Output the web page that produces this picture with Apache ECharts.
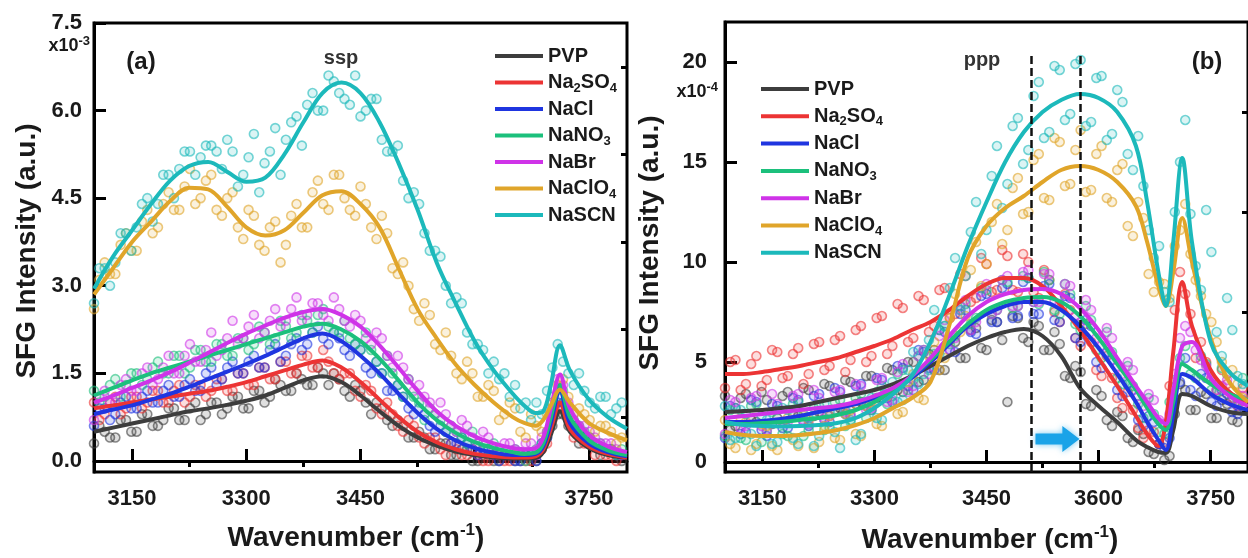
<!DOCTYPE html>
<html>
<head>
<meta charset="utf-8">
<title>SFG spectra ssp / ppp</title>
<script src="https://cdn.jsdelivr.net/npm/echarts@6/dist/echarts.min.js"></script>
<style>
    html, body { margin: 0; padding: 0; background: #fff; }
    #chart { width: 1248px; height: 558px; }
</style>
</head>
<body>
<div id="chart"></div>
<script>
// salts, in drawing order
var names = ['PVP', 'Na2SO4', 'NaCl', 'NaNO3', 'NaBr', 'NaClO4', 'NaSCN'];
var colors = ['#3d3d3d', '#ec3434', '#1f35e0', '#1cc07c', '#cf33e8', '#e0a52a', '#1cb9bb'];

// x of the fitted curves (cm-1)
var fitX = [3100, 3125, 3150, 3175, 3200, 3225, 3250, 3275, 3300, 3325, 3350, 3375, 3400, 3425, 3450, 3475, 3500, 3525, 3550, 3575, 3600, 3625, 3650, 3665, 3680, 3690, 3700, 3712, 3725, 3750, 3775, 3800];
// x of the measured points, two interleaved sets
var ptsX1 = [3100, 3114, 3128, 3142, 3156, 3170, 3184, 3198, 3212, 3226, 3240, 3254, 3268, 3282, 3296, 3310, 3324, 3338, 3352, 3366, 3380, 3394, 3408, 3422, 3436, 3450, 3464, 3478, 3492, 3506, 3520, 3534, 3548, 3562, 3576, 3590, 3604, 3618, 3632, 3646, 3660, 3674, 3688, 3702, 3716, 3730, 3744, 3758, 3772, 3786];
var ptsX2 = [3107, 3121, 3135, 3149, 3163, 3177, 3191, 3205, 3219, 3233, 3247, 3261, 3275, 3289, 3303, 3317, 3331, 3345, 3359, 3373, 3387, 3401, 3415, 3429, 3443, 3457, 3471, 3485, 3499, 3513, 3527, 3541, 3555, 3569, 3583, 3597, 3611, 3625, 3639, 3653, 3667, 3681, 3695, 3709, 3723, 3737, 3751, 3765, 3779, 3793];

// (a) ssp, x10^-3 : fitted curves
var fitA_PVP    = [0.5, 0.57, 0.64, 0.71, 0.78, 0.85, 0.9, 0.96, 1.03, 1.12, 1.25, 1.38, 1.45, 1.35, 1.12, 0.85, 0.6, 0.4, 0.26, 0.16, 0.1, 0.06, 0.04, 0.04, 0.05, 0.15, 0.45, 0.85, 0.5, 0.22, 0.1, 0.05];
var fitA_Na2SO4 = [0.9, 0.95, 1.0, 1.05, 1.1, 1.15, 1.2, 1.27, 1.35, 1.45, 1.55, 1.65, 1.72, 1.6, 1.35, 1.05, 0.75, 0.5, 0.32, 0.2, 0.12, 0.08, 0.06, 0.06, 0.08, 0.2, 0.55, 1.0, 0.55, 0.25, 0.12, 0.06];
var fitA_NaCl   = [0.8, 0.88, 0.95, 1.05, 1.15, 1.27, 1.4, 1.53, 1.66, 1.8, 1.95, 2.1, 2.18, 2.05, 1.8, 1.5, 1.15, 0.82, 0.55, 0.35, 0.22, 0.14, 0.1, 0.1, 0.12, 0.25, 0.65, 1.2, 0.65, 0.3, 0.15, 0.08];
var fitA_NaNO3  = [1.12, 1.25, 1.38, 1.5, 1.6, 1.7, 1.8, 1.9, 2.0, 2.1, 2.2, 2.3, 2.35, 2.25, 2.05, 1.75, 1.38, 1.0, 0.7, 0.48, 0.32, 0.22, 0.15, 0.12, 0.14, 0.3, 0.75, 1.3, 0.75, 0.35, 0.18, 0.1];
var fitA_NaBr   = [1.0, 1.12, 1.25, 1.38, 1.52, 1.68, 1.85, 2.02, 2.18, 2.32, 2.45, 2.55, 2.6, 2.5, 2.3, 1.98, 1.6, 1.2, 0.85, 0.6, 0.42, 0.3, 0.22, 0.2, 0.22, 0.4, 0.9, 1.48, 0.9, 0.45, 0.25, 0.15];
var fitA_NaClO4 = [2.85, 3.3, 3.75, 4.1, 4.45, 4.68, 4.65, 4.35, 4.0, 3.86, 3.95, 4.25, 4.55, 4.62, 4.4, 4.0, 3.3, 2.6, 2.1, 1.65, 1.3, 1.0, 0.75, 0.65, 0.6, 0.7, 0.95, 1.22, 1.0, 0.65, 0.48, 0.35];
var fitA_NaSCN  = [2.95, 3.5, 3.95, 4.4, 4.8, 5.05, 5.12, 4.95, 4.78, 4.85, 5.25, 5.8, 6.3, 6.48, 6.3, 5.8, 5.1, 4.3, 3.4, 2.7, 2.05, 1.55, 1.15, 0.95, 0.82, 0.85, 1.3, 1.98, 1.55, 1.05, 0.75, 0.55];

// (a) measured points, scan 1 and scan 2
var ptsA_PVP    = [0.3, 0.5, 0.4, 0.7, 0.5, 0.8, 0.6, 0.9, 0.7, 0.9, 0.7, 1.0, 0.8, 1.1, 0.9, 1.2, 1.0, 1.4, 1.2, 1.5, 1.3, 1.6, 1.3, 1.4, 1.1, 1.2, 0.8, 0.9, 0.6, 0.6, 0.4, 0.4, 0.2, 0.3, 0.1, 0.2, 0.0, 0.1, 0.0, 0.1, 0.0, 0.0, 0.2, 0.6, 0.8, 0.6, 0.4, 0.3, 0.2, 0.1];
var ptsA_Na2SO4 = [0.7, 1.0, 0.8, 1.1, 0.9, 1.2, 1.0, 1.2, 1.0, 1.3, 1.1, 1.4, 1.2, 1.5, 1.3, 1.6, 1.4, 1.7, 1.5, 1.8, 1.6, 1.9, 1.5, 1.5, 1.2, 1.3, 0.9, 1.0, 0.6, 0.7, 0.4, 0.4, 0.2, 0.3, 0.1, 0.2, 0.0, 0.1, 0.0, 0.1, 0.0, 0.1, 0.3, 0.9, 0.8, 0.5, 0.3, 0.2, 0.1, 0.1];
var ptsA_NaCl   = [0.6, 0.9, 0.8, 1.1, 0.9, 1.2, 1.0, 1.3, 1.1, 1.4, 1.2, 1.6, 1.4, 1.7, 1.5, 1.8, 1.6, 2.0, 1.8, 2.1, 2.0, 2.3, 2.0, 2.1, 1.8, 1.9, 1.5, 1.5, 1.2, 1.1, 0.8, 0.8, 0.5, 0.5, 0.3, 0.3, 0.1, 0.2, 0.0, 0.1, 0.0, 0.1, 0.3, 0.9, 1.0, 0.6, 0.4, 0.3, 0.2, 0.1];
var ptsA_NaNO3  = [1.0, 1.3, 1.1, 1.5, 1.3, 1.6, 1.5, 1.8, 1.5, 1.9, 1.7, 2.0, 1.8, 2.1, 1.9, 2.3, 2.0, 2.4, 2.1, 2.5, 2.2, 2.6, 2.2, 2.4, 2.0, 2.2, 1.7, 1.8, 1.3, 1.4, 1.0, 0.9, 0.7, 0.6, 0.4, 0.5, 0.3, 0.3, 0.1, 0.2, 0.0, 0.2, 0.5, 1.1, 0.9, 0.6, 0.4, 0.3, 0.2, 0.2];
var ptsA_NaBr   = [0.7, 1.2, 1.0, 1.4, 1.2, 1.6, 1.4, 1.8, 1.5, 2.0, 1.7, 2.2, 1.9, 2.4, 2.1, 2.5, 2.2, 2.6, 2.4, 2.8, 2.5, 2.7, 2.4, 2.6, 2.3, 2.4, 2.0, 2.1, 1.6, 1.6, 1.2, 1.1, 0.8, 0.8, 0.5, 0.6, 0.3, 0.4, 0.2, 0.3, 0.1, 0.3, 0.4, 1.1, 1.3, 0.8, 0.6, 0.4, 0.3, 0.2];
var ptsA_NaClO4 = [3.1, 3.2, 3.7, 3.6, 4.1, 3.9, 4.4, 4.3, 4.7, 4.4, 4.8, 4.3, 4.5, 4.0, 4.3, 3.7, 4.0, 3.4, 4.2, 4.0, 4.6, 4.4, 4.9, 4.5, 4.2, 4.4, 3.8, 3.9, 3.2, 3.0, 2.4, 2.5, 1.9, 1.8, 1.4, 1.5, 1.1, 1.2, 0.8, 0.9, 0.4, 0.6, 0.8, 1.3, 1.1, 0.9, 0.7, 0.6, 0.5, 0.4];
var ptsA_NaSCN  = [2.7, 3.3, 3.4, 3.9, 4.0, 4.5, 4.4, 4.9, 5.0, 5.3, 5.2, 5.4, 5.0, 5.3, 4.9, 5.6, 5.1, 5.7, 5.5, 5.9, 6.1, 6.0, 6.6, 6.3, 6.1, 5.9, 6.2, 5.5, 5.3, 4.8, 4.6, 3.9, 3.6, 3.0, 2.8, 2.2, 2.0, 1.5, 1.4, 1.1, 0.9, 0.7, 0.8, 1.6, 1.7, 1.3, 1.2, 0.9, 1.1, 0.9];

var ptsA2_PVP    = [0.6, 0.4, 0.7, 0.5, 0.8, 0.6, 0.7, 0.9, 0.7, 1.0, 0.8, 1.0, 0.9, 1.1, 0.9, 1.2, 1.1, 1.3, 1.2, 1.4, 1.3, 1.5, 1.5, 1.2, 1.3, 1.0, 1.0, 0.7, 0.7, 0.4, 0.5, 0.2, 0.3, 0.1, 0.2, 0.0, 0.1, 0.0, 0.1, 0.0, 0.1, 0.0, 0.4, 0.8, 0.6, 0.3, 0.3, 0.1, 0.2, 0.0];
var ptsA2_Na2SO4 = [1.0, 0.8, 1.1, 0.9, 1.1, 1.0, 1.2, 1.0, 1.3, 1.1, 1.3, 1.2, 1.4, 1.2, 1.5, 1.3, 1.6, 1.4, 1.7, 1.5, 1.8, 1.6, 1.7, 1.4, 1.5, 1.1, 1.2, 0.8, 0.8, 0.5, 0.6, 0.3, 0.4, 0.1, 0.2, 0.1, 0.1, 0.0, 0.1, 0.0, 0.1, 0.0, 0.2, 0.7, 0.9, 0.4, 0.3, 0.1, 0.1, 0.0];
var ptsA2_NaCl   = [0.9, 0.7, 1.0, 0.9, 1.1, 1.0, 1.2, 1.1, 1.3, 1.2, 1.5, 1.3, 1.6, 1.5, 1.7, 1.6, 1.9, 1.7, 2.0, 1.9, 2.2, 2.1, 2.2, 1.9, 2.0, 1.6, 1.7, 1.2, 1.3, 0.9, 0.9, 0.6, 0.6, 0.3, 0.4, 0.2, 0.2, 0.1, 0.1, 0.0, 0.1, 0.0, 0.4, 1.0, 0.8, 0.5, 0.4, 0.2, 0.2, 0.1];
var ptsA2_NaNO3  = [1.2, 1.1, 1.4, 1.3, 1.5, 1.4, 1.7, 1.5, 1.8, 1.6, 1.9, 1.7, 2.0, 1.8, 2.1, 2.0, 2.2, 2.1, 2.3, 2.2, 2.4, 2.5, 2.3, 2.2, 2.1, 1.9, 1.9, 1.5, 1.5, 1.1, 1.1, 0.7, 0.8, 0.5, 0.5, 0.3, 0.3, 0.2, 0.2, 0.1, 0.1, 0.1, 0.3, 1.0, 1.2, 0.7, 0.5, 0.3, 0.2, 0.1];
var ptsA2_NaBr   = [1.1, 1.0, 1.3, 1.2, 1.5, 1.3, 1.6, 1.5, 1.8, 1.7, 1.9, 1.8, 2.1, 2.0, 2.3, 2.1, 2.4, 2.3, 2.6, 2.4, 2.7, 2.5, 2.8, 2.4, 2.5, 2.1, 2.2, 1.8, 1.8, 1.4, 1.3, 1.0, 1.0, 0.6, 0.7, 0.4, 0.5, 0.2, 0.3, 0.2, 0.3, 0.1, 0.5, 1.4, 1.0, 0.6, 0.5, 0.3, 0.3, 0.1];
var ptsA2_NaClO4 = [2.6, 3.4, 3.2, 3.9, 3.6, 4.3, 4.0, 4.6, 4.3, 5.0, 4.5, 4.9, 4.2, 4.6, 3.8, 4.2, 3.6, 4.1, 3.7, 4.4, 4.0, 4.8, 4.3, 4.9, 4.3, 4.7, 4.0, 4.2, 3.3, 3.4, 2.6, 2.7, 2.0, 2.2, 1.5, 1.7, 1.1, 1.3, 0.7, 1.0, 0.5, 0.8, 0.5, 1.0, 1.4, 0.8, 0.8, 0.5, 0.6, 0.3];
var ptsA2_NaSCN  = [3.3, 3.0, 3.9, 3.6, 4.4, 4.1, 4.9, 4.5, 5.3, 4.9, 5.4, 5.3, 5.5, 4.7, 5.2, 4.6, 5.3, 4.9, 5.8, 5.4, 6.3, 6.0, 6.5, 6.2, 6.6, 6.0, 6.2, 5.3, 5.4, 4.5, 4.4, 3.6, 3.5, 2.7, 2.7, 2.0, 1.9, 1.7, 1.5, 1.3, 1.0, 1.0, 1.2, 2.0, 1.5, 1.5, 1.0, 1.1, 0.8, 1.0];

// (b) ppp, x10^-4 : fitted curves
var fitB_PVP    = [2.5, 2.55, 2.6, 2.7, 2.8, 3.0, 3.2, 3.4, 3.6, 3.9, 4.3, 4.8, 5.3, 5.8, 6.2, 6.5, 6.65, 6.3, 5.3, 3.7, 2.8, 2.0, 1.1, 0.75, 0.5, 0.45, 1.6, 3.4, 3.3, 2.8, 2.5, 2.4];
var fitB_Na2SO4 = [4.4, 4.4, 4.5, 4.65, 4.8, 5.0, 5.2, 5.5, 5.8, 6.15, 6.6, 7.0, 7.6, 8.3, 8.9, 9.2, 9.2, 8.8, 7.8, 6.6, 5.2, 3.8, 2.3, 1.4, 0.8, 2.0, 5.5, 9.0, 6.8, 4.6, 3.5, 3.0];
var fitB_NaCl   = [2.0, 2.0, 2.05, 2.15, 2.3, 2.5, 2.7, 2.9, 3.2, 3.6, 4.2, 5.0, 5.9, 6.8, 7.4, 7.8, 8.0, 8.0, 7.6, 6.8, 5.7, 4.4, 3.0, 2.0, 1.1, 0.6, 2.4, 4.4, 4.2, 3.4, 2.9, 2.6];
var fitB_NaNO3  = [1.9, 1.9, 1.95, 2.0, 2.1, 2.2, 2.35, 2.6, 3.0, 3.6, 4.3, 5.1, 6.0, 6.9, 7.6, 8.0, 8.2, 8.25, 8.0, 7.3, 6.2, 4.9, 3.6, 2.7, 1.9, 1.6, 3.0, 4.9, 4.6, 3.9, 3.4, 3.1];
var fitB_NaBr   = [2.2, 2.3, 2.4, 2.5, 2.6, 2.7, 2.8, 3.0, 3.3, 3.7, 4.3, 5.2, 6.3, 7.3, 8.0, 8.4, 8.6, 8.65, 8.4, 7.7, 6.6, 5.2, 3.8, 3.0, 2.2, 1.9, 3.6, 5.8, 6.0, 4.2, 3.3, 2.8];
var fitB_NaClO4 = [1.5, 1.35, 1.3, 1.3, 1.35, 1.45, 1.6, 1.85, 2.2, 2.7, 3.2, 4.0, 6.8, 10.2, 11.8, 12.7, 13.3, 14.0, 14.6, 14.8, 14.6, 14.0, 12.8, 11.0, 8.8, 7.8, 9.5, 12.2, 10.0, 6.2, 4.0, 3.0];
var fitB_NaSCN  = [2.0, 1.85, 1.8, 1.78, 1.8, 1.85, 1.95, 2.2, 2.7, 3.4, 4.3, 6.0, 8.3, 10.8, 13.0, 15.0, 16.5, 17.5, 18.1, 18.4, 18.2, 17.5, 15.8, 13.0, 9.5, 7.8, 11.0, 15.2, 11.0, 6.0, 4.5, 3.8];

// (b) measured points, scan 1 and scan 2
var ptsB_PVP    = [3.3, 1.8, 3.4, 2.0, 3.1, 2.2, 3.5, 2.3, 3.6, 2.5, 3.8, 2.7, 4.0, 3.0, 4.3, 3.2, 4.6, 3.5, 5.0, 4.1, 5.6, 4.6, 6.0, 5.2, 6.7, 5.6, 7.0, 3.0, 7.2, 6.0, 6.8, 5.6, 5.9, 4.2, 4.5, 2.8, 3.3, 1.8, 2.3, 1.0, 1.4, 0.4, 0.1, 2.4, 3.6, 2.6, 3.4, 2.2, 2.9, 2.0];
var ptsB_Na2SO4 = [5.0, 3.6, 4.9, 3.8, 5.6, 4.2, 5.4, 3.9, 5.9, 4.6, 6.1, 4.5, 6.6, 5.0, 7.2, 5.4, 7.9, 6.0, 8.3, 6.5, 8.6, 7.2, 9.4, 8.0, 10.2, 8.5, 10.6, 8.6, 10.4, 8.5, 9.6, 7.5, 8.4, 6.2, 6.9, 4.6, 5.3, 3.2, 3.5, 1.7, 1.6, 0.9, 3.8, 9.5, 7.4, 6.0, 4.2, 4.6, 3.2, 3.7];
var ptsB_NaCl   = [1.2, 2.7, 1.5, 3.0, 1.3, 2.8, 1.7, 3.1, 1.8, 3.4, 2.0, 3.5, 2.3, 3.9, 2.6, 4.1, 3.0, 4.7, 3.6, 5.5, 4.6, 6.5, 5.5, 7.6, 6.4, 8.4, 7.0, 8.9, 7.3, 9.2, 7.4, 8.9, 7.0, 8.2, 6.0, 6.8, 4.7, 5.1, 3.3, 3.6, 1.8, 2.0, 0.7, 3.1, 5.2, 3.3, 4.2, 2.8, 3.4, 2.4];
var ptsB_NaNO3  = [2.6, 1.2, 2.8, 1.0, 2.5, 1.4, 2.9, 1.3, 2.7, 1.6, 3.0, 1.8, 3.2, 2.2, 3.5, 2.9, 4.4, 3.6, 5.3, 4.6, 6.6, 5.9, 7.8, 6.9, 8.7, 7.4, 9.1, 7.7, 9.3, 8.0, 9.5, 7.6, 8.9, 6.9, 7.8, 5.6, 6.5, 4.2, 4.8, 2.9, 3.2, 1.5, 3.0, 5.2, 4.4, 5.3, 3.6, 4.7, 3.1, 4.2];
var ptsB_NaBr   = [1.4, 3.0, 1.8, 3.3, 1.6, 2.9, 2.0, 3.4, 1.9, 3.2, 2.3, 3.6, 2.4, 3.8, 2.7, 4.2, 3.1, 4.9, 3.8, 5.6, 5.0, 7.1, 6.2, 8.1, 7.0, 8.9, 7.6, 9.3, 7.8, 9.6, 8.0, 9.4, 7.9, 8.8, 7.0, 7.6, 5.8, 6.2, 4.4, 4.6, 2.8, 3.1, 1.9, 4.4, 6.8, 5.6, 4.8, 3.6, 4.1, 2.9];
var ptsB_NaClO4 = [0.9, 2.2, 0.6, 1.9, 0.8, 2.0, 1.1, 2.3, 0.7, 1.8, 1.2, 2.4, 1.4, 2.8, 1.9, 3.3, 2.4, 4.0, 3.2, 5.3, 4.6, 7.2, 6.5, 9.6, 8.8, 12.0, 10.9, 13.7, 12.4, 15.1, 13.2, 16.2, 13.8, 15.6, 13.5, 15.4, 13.2, 14.6, 11.8, 13.0, 9.4, 9.0, 8.2, 11.6, 10.4, 8.3, 7.0, 5.0, 4.6, 3.2];
var ptsB_NaSCN  = [2.8, 1.2, 2.4, 0.8, 2.1, 1.0, 2.6, 0.9, 2.2, 1.3, 2.5, 0.7, 2.0, 1.4, 3.2, 2.1, 4.0, 3.1, 5.5, 4.4, 7.6, 6.8, 10.2, 9.3, 13.0, 11.6, 15.8, 13.9, 17.2, 15.6, 19.0, 16.5, 19.6, 17.4, 20.1, 17.0, 19.3, 16.4, 18.0, 14.6, 13.8, 10.2, 8.5, 12.5, 17.1, 9.8, 12.6, 6.5, 8.2, 4.3];

var ptsB2_PVP    = [1.6, 3.2, 2.1, 3.5, 1.9, 3.3, 2.4, 3.7, 2.3, 3.9, 2.6, 4.1, 2.9, 4.3, 3.2, 4.7, 3.6, 5.0, 4.0, 5.4, 4.6, 6.1, 5.2, 6.6, 5.7, 7.1, 6.1, 7.3, 6.2, 7.0, 5.6, 6.5, 4.3, 4.8, 2.9, 3.6, 2.1, 2.5, 1.2, 1.6, 0.5, 0.9, 0.3, 3.9, 2.6, 3.5, 2.2, 3.1, 2.1, 2.8];
var ptsB2_Na2SO4 = [3.7, 5.1, 3.9, 5.3, 4.1, 5.5, 4.3, 5.7, 4.4, 6.0, 4.8, 6.3, 5.1, 6.8, 5.3, 7.3, 5.8, 7.7, 6.2, 8.1, 6.8, 8.7, 7.4, 9.3, 8.2, 9.9, 8.6, 10.3, 8.5, 10.0, 8.2, 9.1, 7.0, 7.6, 5.8, 6.0, 4.3, 4.2, 2.7, 2.6, 1.2, 1.5, 1.0, 7.6, 8.4, 5.2, 5.0, 3.6, 3.9, 2.8];
var ptsB2_NaCl   = [2.8, 1.4, 3.1, 1.6, 2.9, 1.7, 3.2, 2.0, 3.3, 2.1, 3.7, 2.4, 3.8, 2.8, 4.2, 3.2, 4.8, 3.8, 5.6, 4.7, 6.6, 5.6, 7.4, 6.5, 8.3, 7.0, 8.7, 7.2, 9.0, 7.4, 8.8, 7.1, 8.3, 6.2, 7.1, 5.0, 5.5, 3.6, 3.9, 2.1, 2.3, 0.9, 1.2, 4.0, 3.6, 4.4, 3.0, 3.6, 2.5, 3.1];
var ptsB2_NaNO3  = [1.3, 2.7, 1.1, 2.9, 1.5, 2.6, 1.3, 3.0, 1.6, 2.8, 1.7, 3.1, 2.1, 3.4, 2.6, 3.8, 3.3, 4.6, 4.1, 5.6, 5.4, 6.8, 6.3, 7.9, 7.2, 8.6, 7.6, 9.0, 7.8, 9.2, 7.9, 9.1, 7.4, 8.4, 6.6, 7.1, 5.2, 5.5, 3.9, 3.8, 2.2, 2.4, 1.4, 4.1, 5.8, 4.2, 4.9, 3.5, 4.4, 3.0];
var ptsB2_NaBr   = [3.1, 1.7, 3.2, 1.8, 3.4, 2.0, 3.3, 2.1, 3.6, 2.2, 3.5, 2.5, 3.9, 2.6, 4.1, 3.0, 4.5, 3.5, 5.3, 4.4, 6.3, 5.6, 7.6, 6.6, 8.5, 7.4, 9.1, 7.8, 9.5, 8.0, 9.4, 8.0, 8.9, 7.3, 8.1, 6.2, 6.7, 4.8, 5.0, 3.3, 3.4, 2.1, 2.4, 6.2, 6.5, 5.1, 4.1, 3.8, 3.0, 3.3];
var ptsB2_NaClO4 = [2.1, 0.7, 2.0, 0.9, 1.8, 0.6, 2.2, 0.8, 2.1, 1.0, 2.3, 1.1, 2.6, 1.3, 3.0, 1.8, 3.6, 2.5, 4.4, 3.1, 6.0, 5.2, 8.4, 7.3, 11.0, 9.9, 12.9, 11.6, 14.2, 12.5, 15.4, 13.1, 16.0, 13.9, 16.6, 13.6, 15.8, 13.0, 14.9, 11.3, 12.2, 8.5, 8.9, 10.8, 12.9, 9.1, 7.4, 6.0, 4.4, 3.9];
var ptsB2_NaSCN  = [1.1, 2.6, 1.4, 2.3, 0.9, 2.7, 1.2, 2.4, 0.8, 2.9, 1.5, 2.6, 1.1, 3.0, 2.2, 3.6, 3.0, 4.6, 3.9, 6.1, 5.4, 8.7, 7.6, 11.5, 10.4, 14.3, 12.7, 16.8, 14.9, 18.3, 16.2, 19.8, 17.1, 19.9, 16.8, 19.2, 16.1, 18.6, 15.4, 16.3, 11.6, 10.8, 8.0, 15.0, 12.4, 8.6, 10.5, 5.3, 6.6, 3.9];

// ticks
var xMajor = [3150, 3300, 3450, 3600, 3750];
var xMinor = [3225, 3375, 3525, 3675];
var yMajorA = [0, 1.5, 3, 4.5, 6, 7.5];
var yMinorA = [0.75, 2.25, 3.75, 5.25, 6.75];
var yMajorB = [0, 5, 10, 15, 20];
var yMinorB = [2.5, 7.5, 12.5, 17.5];

// markers in (b)
var dashX = [3510, 3575];
var arrowAt = [3545, 1.15];

var fitA = [fitA_PVP, fitA_Na2SO4, fitA_NaCl, fitA_NaNO3, fitA_NaBr, fitA_NaClO4, fitA_NaSCN];
var ptsA = [ptsA_PVP, ptsA_Na2SO4, ptsA_NaCl, ptsA_NaNO3, ptsA_NaBr, ptsA_NaClO4, ptsA_NaSCN];
var ptsA2 = [ptsA2_PVP, ptsA2_Na2SO4, ptsA2_NaCl, ptsA2_NaNO3, ptsA2_NaBr, ptsA2_NaClO4, ptsA2_NaSCN];
var fitB = [fitB_PVP, fitB_Na2SO4, fitB_NaCl, fitB_NaNO3, fitB_NaBr, fitB_NaClO4, fitB_NaSCN];
var ptsB = [ptsB_PVP, ptsB_Na2SO4, ptsB_NaCl, ptsB_NaNO3, ptsB_NaBr, ptsB_NaClO4, ptsB_NaSCN];
var ptsB2 = [ptsB2_PVP, ptsB2_Na2SO4, ptsB2_NaCl, ptsB2_NaNO3, ptsB2_NaBr, ptsB2_NaClO4, ptsB2_NaSCN];

var FONT = '"Liberation Sans", Arial, Helvetica, sans-serif';
var legendRich = {
    'PVP': '{n|PVP}',
    'Na2SO4': '{n|Na}{s|2}{n|SO}{s|4}',
    'NaCl': '{n|NaCl}',
    'NaNO3': '{n|NaNO}{s|3}',
    'NaBr': '{n|NaBr}',
    'NaClO4': '{n|NaClO}{s|4}',
    'NaSCN': '{n|NaSCN}'
};

function rgba(hex, a) {
    var v = parseInt(hex.slice(1), 16);
    return 'rgba(' + (v >> 16) + ',' + ((v >> 8) & 255) + ',' + (v & 255) + ',' + a + ')';
}

function xAxes(grid) {
    return [{
        type: 'value', gridIndex: grid, min: 3100, max: 3800,
        axisLine: { show: true, lineStyle: { color: '#000', width: 3 } },
        axisTick: { inside: true, length: 12, customValues: xMajor, lineStyle: { color: '#000', width: 3 } },
        axisLabel: { customValues: xMajor, formatter: function (v) { return String(v); }, fontSize: 22, fontWeight: 'bold', fontFamily: FONT, color: '#1a1a1a', margin: 16 },
        splitLine: { show: false }
    }, {
        type: 'value', gridIndex: grid, min: 3100, max: 3800,
        axisLine: { show: false },
        axisTick: { inside: true, length: 6, customValues: xMinor, lineStyle: { color: '#000', width: 3 } },
        axisLabel: { show: false },
        splitLine: { show: false }
    }];
}

function yAxes(grid, min, max, major, minor, fmt, margin) {
    return [{
        type: 'value', gridIndex: grid, min: min, max: max,
        axisLine: { show: true, lineStyle: { color: '#000', width: 3 } },
        axisTick: { inside: true, length: 12, customValues: major, lineStyle: { color: '#000', width: 3 } },
        axisLabel: { customValues: major, formatter: fmt, fontSize: 22, fontWeight: 'bold', fontFamily: FONT, color: '#1a1a1a', margin: margin },
        splitLine: { show: false }
    }, {
        type: 'value', gridIndex: grid, min: min, max: max,
        axisLine: { show: false },
        axisTick: { inside: true, length: 6, customValues: minor, lineStyle: { color: '#000', width: 3 } },
        axisLabel: { show: false },
        splitLine: { show: false }
    }];
}

var series = [];
function addPanel(axis, fits, pts, pts2) {
    for (var i = 0; i < names.length; i++) {
        var px = (i % 2 === 0) ? ptsX1 : ptsX2;
        var px2 = (i % 2 === 0) ? ptsX2 : ptsX1;
        var data = pts[i].map(function (y, k) { return [px[k], y]; })
            .concat(pts2[i].map(function (y, k) { return [px2[k], y]; }));
        series.push({
            type: 'scatter', name: names[i] + ' data', xAxisIndex: axis, yAxisIndex: axis,
            symbol: 'circle', symbolSize: 9, silent: true,
            itemStyle: { color: rgba(colors[i], 0.2), borderColor: rgba(colors[i], 0.75), borderWidth: 1.6 },
            data: data
        });
        series.push({
            type: 'line', name: names[i], xAxisIndex: axis, yAxisIndex: axis,
            showSymbol: false, smooth: 0.35, silent: true,
            lineStyle: { color: colors[i], width: 4 },
            itemStyle: { color: colors[i] },
            data: fits[i].map(function (y, k) { return [fitX[k], y]; })
        });
    }
}
addPanel(0, fitA, ptsA, ptsA2);
addPanel(2, fitB, ptsB, ptsB2);

// dashed guides and shift arrow in (b)
series.push({
    type: 'line', name: 'marks', xAxisIndex: 2, yAxisIndex: 2, data: [], silent: true,
    markLine: {
        symbol: 'none', silent: true, label: { show: false },
        lineStyle: { color: '#111', width: 2.5, type: [8, 4] },
        data: dashX.map(function (x) { return [{ coord: [x, -0.5] }, { coord: [x, 20.3] }]; })
    },
    markPoint: {
        silent: true, label: { show: false },
        symbol: 'path://M0,4 L11,4 L11,0 L18,7 L11,14 L11,10 L0,10 Z',
        symbolSize: [44, 26],
        itemStyle: { color: '#1aa3e8', shadowColor: 'rgba(26,163,232,0.6)', shadowBlur: 6 },
        data: [{ coord: arrowAt }]
    }
});

function legendAt(left, top, gap) {
    return {
        data: names, orient: 'vertical', left: left, top: top,
        icon: 'rect', itemWidth: 48, itemHeight: 4, itemGap: gap,
        selectedMode: false,
        formatter: function (n) { return legendRich[n]; },
        textStyle: {
            rich: {
                n: { fontSize: 20, fontWeight: 'bold', fontFamily: FONT, color: '#1a1a1a', lineHeight: 24 },
                s: { fontSize: 13, fontWeight: 'bold', fontFamily: FONT, color: '#1a1a1a', lineHeight: 13, padding: [11, 0, 0, 0] }
            }
        }
    };
}

function txt(x, y, text, size, extra) {
    var s = { text: text, x: x, y: y, fill: '#1a1a1a', font: 'bold ' + size + 'px ' + FONT, align: 'center', verticalAlign: 'middle' };
    for (var k in extra) s[k] = extra[k];
    return { type: 'text', style: s, z: 100 };
}
function richTxt(x, y, text, rich, rotation, align) {
    return {
        type: 'text', x: x, y: y, rotation: rotation || 0, z: 100,
        style: { text: text, rich: rich, align: align || 'center', verticalAlign: 'middle' }
    };
}

var titleRich = {
    t: { fontSize: 28, fontWeight: 'bold', fontFamily: FONT, fill: '#1a1a1a', lineHeight: 32 },
    p: { fontSize: 17, fontWeight: 'bold', fontFamily: FONT, fill: '#1a1a1a', lineHeight: 17, padding: [0, 0, 15, 0] }
};
var expRich = {
    t: { fontSize: 18, fontWeight: 'bold', fontFamily: FONT, fill: '#1a1a1a', lineHeight: 20 },
    p: { fontSize: 13, fontWeight: 'bold', fontFamily: FONT, fill: '#1a1a1a', lineHeight: 13, padding: [0, 0, 9, 0] }
};

var option = {
    animation: false,
    backgroundColor: '#fff',
    grid: [
        { left: 94, top: 23, width: 533, height: 449, show: true, borderColor: '#000', borderWidth: 3, backgroundColor: 'transparent' },
        { left: 725, top: 22, width: 530, height: 450, show: true, borderColor: '#000', borderWidth: 3, backgroundColor: 'transparent' }
    ],
    xAxis: xAxes(0).concat(xAxes(1)),
    yAxis: yAxes(0, -0.19, 7.5, yMajorA, yMinorA, function (v) { return v.toFixed(1); }, 12)
        .concat(yAxes(1, -0.5, 22, yMajorB, yMinorB, function (v) { return String(v); }, 18)),
    legend: [legendAt(490, 41, 4.5), legendAt(756, 74, 5.3)],
    series: series,
    graphic: [
        richTxt(356, 538, '{t|Wavenumber (cm}{p|-1}{t|)}', titleRich),
        richTxt(990, 540, '{t|Wavenumber (cm}{p|-1}{t|)}', titleRich),
        richTxt(27, 251, '{t|SFG Intensity (a.u.)}', titleRich, Math.PI / 2),
        richTxt(650, 243, '{t|SFG Intensity (a.u.)}', titleRich, Math.PI / 2),
        richTxt(90, 46, '{t|x10}{p|-3}', expRich, 0, 'right'),
        richTxt(718, 92, '{t|x10}{p|-4}', expRich, 0, 'right'),
        txt(141, 62, '(a)', 24),
        txt(1207, 62, '(b)', 24),
        txt(341, 58, 'ssp', 20, { fill: '#333' }),
        txt(982, 60, 'ppp', 20, { fill: '#333' })
    ]
};

var chart = echarts.init(document.getElementById('chart'));
chart.setOption(option);
</script>
</body>
</html>
